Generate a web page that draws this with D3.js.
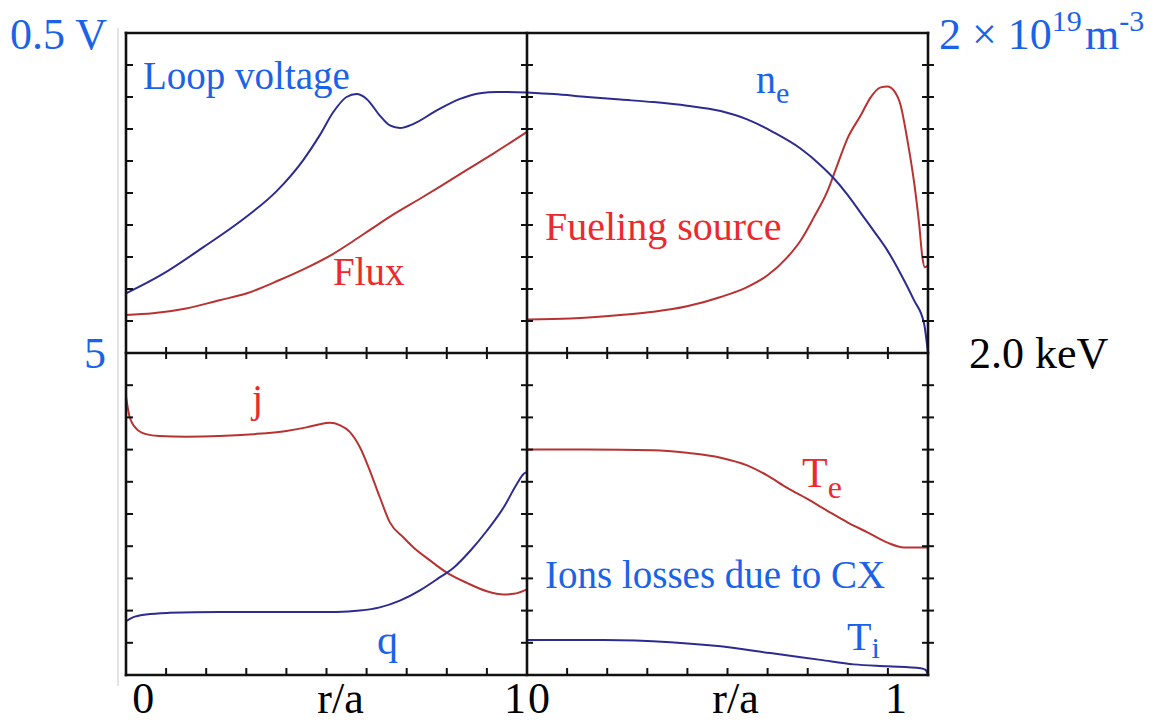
<!DOCTYPE html>
<html><head><meta charset="utf-8">
<script src="https://cdn.jsdelivr.net/npm/d3@7"></script>
<style>
body{margin:0;background:#fff}
svg{display:block}
svg text, svg tspan{font-family:"Liberation Serif", Tinos, "Times New Roman", Times, serif !important;}
</style>
</head><body>
<script>
// ---- data (x and y in tick units, 0..10 per panel) ----
const loopVoltage = [[0,1.86],[0.92,2.47],[1.92,3.30],[2.92,4.18],[3.75,5.05],[4.42,6.03],[4.83,6.80],[5.17,7.53],[5.5,8.0],[5.75,8.09],[6.0,7.94],[6.33,7.42],[6.58,7.11],[6.83,7.03],[7.17,7.16],[7.75,7.58],[8.33,7.94],[8.83,8.12],[9.25,8.16],[10,8.14]];
const flux = [[0,1.19],[0.67,1.24],[1.5,1.39],[2.33,1.65],[3.0,1.86],[3.83,2.28],[4.5,2.66],[5.17,3.1],[5.67,3.5],[6.17,3.92],[6.67,4.33],[7.33,4.82],[7.83,5.2],[8.5,5.72],[9.17,6.24],[10,6.91]];
const density = [[0,8.14],[0.67,8.09],[1.5,8.0],[2.33,7.92],[3.16,7.84],[3.99,7.73],[4.83,7.56],[5.49,7.3],[6.16,6.89],[6.82,6.39],[7.32,5.87],[7.65,5.46],[7.99,4.95],[8.32,4.38],[8.65,3.81],[8.99,3.2],[9.32,2.47],[9.65,1.65],[9.9,0.93],[10,0]];
const fueling = [[0,1.05],[1.08,1.08],[2.33,1.19],[3.16,1.29],[3.99,1.46],[4.83,1.75],[5.49,2.06],[5.99,2.42],[6.49,2.99],[6.82,3.51],[7.15,4.23],[7.49,5.05],[7.74,5.88],[7.99,6.70],[8.32,7.42],[8.57,7.99],[8.82,8.30],[8.99,8.33],[9.15,8.2],[9.32,7.73],[9.48,6.70],[9.65,5.36],[9.78,4.02],[9.86,2.99],[9.92,2.68],[10,2.73]];
const currentJ = [[0,8.65],[0.08,8.07],[0.25,7.66],[0.5,7.48],[0.83,7.42],[1.5,7.4],[2.33,7.42],[3.17,7.48],[4.0,7.58],[4.5,7.69],[4.83,7.79],[5.08,7.83],[5.33,7.76],[5.58,7.55],[5.83,7.08],[6.08,6.35],[6.33,5.52],[6.58,4.74],[6.92,4.27],[7.17,3.96],[7.58,3.56],[8.0,3.18],[8.5,2.86],[9.0,2.6],[9.42,2.5],[9.67,2.52],[10,2.66]];
const safetyQ = [[0,1.67],[0.17,1.79],[0.5,1.88],[1.08,1.93],[2.33,1.96],[4.0,1.96],[5.25,1.96],[5.83,2.0],[6.33,2.1],[6.83,2.31],[7.33,2.63],[7.75,2.97],[8.17,3.33],[8.58,3.85],[9.0,4.48],[9.42,5.21],[9.75,5.94],[9.92,6.25],[10,6.3]];
const tempE = [[0,7.0],[1.5,7.0],[3.16,6.98],[3.99,6.9],[4.83,6.75],[5.49,6.51],[5.99,6.2],[6.49,5.81],[6.99,5.47],[7.49,5.1],[7.99,4.74],[8.49,4.43],[8.99,4.11],[9.4,3.96],[10,3.96]];
const tempI = [[0,1.09],[1.91,1.09],[3.58,1.02],[4.83,0.89],[6.07,0.68],[7.32,0.47],[8.15,0.33],[8.99,0.27],[9.82,0.21],[9.94,0.16],[10,0]];
const tickValues = [1,2,3,4,5,6,7,8,9];
const leftXLabels = [{t:0.43,s:"0"},{t:5.35,s:"r/a"},{t:9.7,s:"1"}];
const rightXLabels = [{t:0.3,s:"0"},{t:5.2,s:"r/a"},{t:9.2,s:"1"}];

// ---- layout ----
const W=1174,H=725;
const X0=126,XM=527,X1=928,Y0=33,YM=353,Y1=675;
const BLUE="#2c2c90",RED="#b83232",TBLUE="#1a62e8",TRED="#ec2a2e";

const svg=d3.select("body").append("svg").attr("width",W).attr("height",H);

const xL=d3.scaleLinear().domain([0,10]).range([X0,XM]);
const xR=d3.scaleLinear().domain([0,10]).range([XM,X1]);
const yT=d3.scaleLinear().domain([0,10]).range([YM,Y0]);
const yB=d3.scaleLinear().domain([0,10]).range([Y1,YM]);

// faint image border
svg.append("line").attr("x1",118).attr("x2",118).attr("y1",28).attr("y2",686).attr("stroke","#c8c8c8").attr("stroke-width",1);

// curves
function curve(data,xs,ys,color){
  const line=d3.line().x(d=>xs(d[0])).y(d=>ys(d[1])).curve(d3.curveMonotoneX);
  svg.append("path").datum(data).attr("d",line).attr("fill","none").attr("stroke",color).attr("stroke-width",2).attr("stroke-linejoin","round");
}
curve(flux,xL,yT,RED);
curve(loopVoltage,xL,yT,BLUE);
curve(fueling,xR,yT,RED);
curve(density,xR,yT,BLUE);
curve(currentJ,xL,yB,RED);
curve(safetyQ,xL,yB,BLUE);
curve(tempE,xR,yB,RED);
curve(tempI,xR,yB,BLUE);

// frame
const fr=svg.append("g").attr("stroke","#111").attr("stroke-width",2.6).attr("stroke-linecap","square");
[[X0,Y0,X1,Y0],[X0,YM,X1,YM],[X0,Y1,X1,Y1],[X0,Y0,X0,Y1],[XM,Y0,XM,Y1],[X1,Y0,X1,Y1]].forEach(a=>{
  fr.append("line").attr("x1",a[0]).attr("y1",a[1]).attr("x2",a[2]).attr("y2",a[3]);
});
const tk=svg.append("g").attr("stroke","#111").attr("stroke-width",2);
[yT,yB].forEach(ys=>{
  tickValues.forEach(v=>{
    const y=ys(v);
    tk.append("line").attr("x1",X0).attr("x2",X0+7).attr("y1",y).attr("y2",y);
    tk.append("line").attr("x1",XM-6).attr("x2",XM+6).attr("y1",y).attr("y2",y);
    tk.append("line").attr("x1",X1-6).attr("x2",X1+6).attr("y1",y).attr("y2",y);
  });
});
[xL,xR].forEach(xs=>{
  tickValues.forEach(v=>{
    const x=xs(v);
    tk.append("line").attr("x1",x).attr("x2",x).attr("y1",YM-6).attr("y2",YM+6);
    tk.append("line").attr("x1",x).attr("x2",x).attr("y1",Y1).attr("y2",Y1-7);
  });
});

// texts
function txt(x,y,s,color,size,anchor){
  return svg.append("text").attr("x",x).attr("y",y).attr("fill",color).attr("font-size",size).attr("font-family","Liberation Serif").attr("text-anchor",anchor||"start").text(s);
}
function sub(x,y,main,subs,color,size,subSize,dy){
  const t=svg.append("text").attr("x",x).attr("y",y).attr("fill",color).attr("font-size",size).attr("font-family","Liberation Serif");
  t.append("tspan").text(main);
  t.append("tspan").attr("font-size",subSize).attr("dy",dy).text(subs);
  return t;
}
txt(10,49,"0.5 V",TBLUE,44);
const u=svg.append("text").attr("x",939).attr("y",49).attr("fill",TBLUE).attr("font-size",44).attr("font-family","Liberation Serif");
u.append("tspan").text("2 × 10");
u.append("tspan").attr("font-size",30).attr("dy",-18).text("19");
u.append("tspan").attr("x",1085).attr("dy",18).text("m");
u.append("tspan").attr("font-size",30).attr("dy",-18).text("-3");
txt(84,368,"5",TBLUE,44);
txt(969,368,"2.0 keV","#000",44);

txt(143,89,"Loop voltage",TBLUE,39);
txt(333,285,"Flux",TRED,39);
sub(756,93,"n","e",TBLUE,40,30,10);
txt(545,240,"Fueling source",TRED,40);
txt(252,412,"j",TRED,40);
txt(377,654,"q",TBLUE,42);
sub(802,487,"T","e",TRED,42,32,11);
txt(545,588,"Ions losses due to CX",TBLUE,39);
sub(847,650,"T","i",TBLUE,40,30,8);

leftXLabels.forEach(d=>txt(xL(d.t),713,d.s,"#000",44,"middle"));
rightXLabels.forEach(d=>txt(xR(d.t),713,d.s,"#000",44,"middle"));
</script>
</body></html>
